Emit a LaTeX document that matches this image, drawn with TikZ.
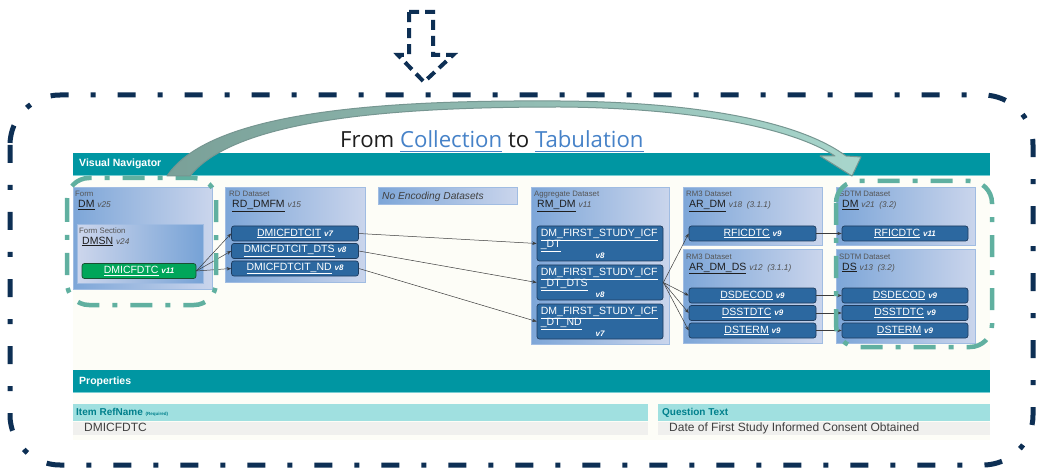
\documentclass[tikz,border=0pt]{standalone}
\usepackage{fontspec}
\setmainfont{Liberation Sans}
\newfontfamily\headfont{Open Sans}
\usetikzlibrary{arrows.meta}

\definecolor{navy}{RGB}{13,47,84}
\definecolor{tealdash}{RGB}{96,176,160}
\definecolor{barteal}{RGB}{0,150,162}
\definecolor{barline}{RGB}{120,205,210}
\definecolor{hdrteal}{RGB}{160,224,224}
\definecolor{hdrtext}{RGB}{0,128,140}
\definecolor{rowgray}{RGB}{240,240,238}
\definecolor{bodybg}{RGB}{253,253,247}
\definecolor{itemF}{RGB}{44,104,160}
\definecolor{itemB}{RGB}{30,60,95}
\definecolor{greenF}{RGB}{0,166,90}
\definecolor{greenB}{RGB}{25,80,50}
\definecolor{panelL}{RGB}{125,166,216}
\definecolor{panelR}{RGB}{202,213,236}
\definecolor{panelB}{RGB}{160,188,226}
\definecolor{secL}{RGB}{205,214,236}
\definecolor{secR}{RGB}{118,162,214}
\definecolor{catgray}{RGB}{85,85,85}
\definecolor{ttlgray}{RGB}{30,30,30}
\definecolor{vgray}{RGB}{80,80,80}
\definecolor{linkgray}{RGB}{60,60,60}
\definecolor{linkblue}{RGB}{70,130,200}
\definecolor{titlegray}{RGB}{30,30,30}
\definecolor{valgray}{RGB}{64,64,64}
\definecolor{ribL}{RGB}{122,160,152}
\definecolor{ribR}{RGB}{168,214,204}
\definecolor{ribB}{RGB}{118,150,145}

% version tags
\newcommand{\ivers}[1]{{\fontsize{8}{9}\selectfont\bfseries\itshape #1}}
\newcommand{\pvers}[1]{{\fontsize{8.3}{9}\selectfont\itshape\color{vgray}#1}}
% heavier underline for the headline links
\newcommand{\thickul}[1]{\setbox0=\hbox{#1}\rlap{\raisebox{-4pt}{\rule{\wd0}{1.3pt}}}\box0}

\begin{document}
\begin{tikzpicture}[x=1pt,y=-1pt,
  panel/.style={draw=panelB, line width=0.6pt, left color=panelL, right color=panelR, inner sep=0pt, anchor=north west},
  secpanel/.style={panel, left color=secL, right color=secR},
  cat/.style={font=\fontsize{7.8}{9}\selectfont, text=catgray, inner sep=0pt, anchor=base west},
  ttl/.style={font=\fontsize{10.5}{12}\selectfont, text=ttlgray, inner sep=0pt, anchor=base west},
  item/.style={draw=itemB, fill=itemF, rounded corners=2.5pt, line width=0.7pt, text=white,
    font=\fontsize{10.5}{12}\selectfont, inner sep=0pt, minimum width=127pt, minimum height=15pt},
  greenitem/.style={item, fill=greenF, draw=greenB, minimum width=114pt},
  aggitem/.style={item, minimum width=126pt, minimum height=35pt},
  itxt/.style={text=white, font=\fontsize{10.5}{12}\selectfont, inner sep=0pt, anchor=base west},
  link/.style={draw=linkgray, line width=0.5pt, -{Stealth[length=4.5pt,width=3.5pt]}},
  outline/.style={draw=navy, line width=5pt, dash pattern=on 18pt off 22pt on 5pt off 22pt, rounded corners=50pt},
  tealbox/.style={draw=tealdash, line width=4.5pt, dash pattern=on 22pt off 13pt on 5pt off 13pt, rounded corners=22pt},
  bartext/.style={font=\fontsize{10.5}{12}\selectfont\bfseries, text=white, inner sep=0pt, anchor=base west},
  hdr/.style={font=\fontsize{10}{12}\selectfont\bfseries, text=hdrtext, inner sep=0pt, anchor=base west},
  val/.style={font=\fontsize{12}{14}\selectfont, text=valgray, inner sep=0pt, anchor=base west},
  ribbon/.style={draw=ribB, line width=1pt, left color=ribL, right color=ribR, line join=round},
  droparrow/.style={draw=navy, line width=4pt, dash pattern=on 10pt off 6pt, line join=miter}
]
\useasboundingbox (0,0) rectangle (1038,470);
\fill[white] (0,0) rectangle (1038,470);

% navigator body and header bar
\fill[bodybg] (73,175) rectangle (990,440);
\fill[barteal] (73,153) rectangle (990,175);
\draw[barline, line width=0.8pt] (73,175) -- (990,175);
\node[bartext] (navTitle) at (79,167) {Visual Navigator};

% properties section
\fill[barteal] (73,370) rectangle (990,392);
\draw[barline, line width=0.8pt] (73,392) -- (990,392);
\node[bartext] (propTitle) at (79,384) {Properties};
\fill[hdrteal] (73,404) rectangle (648,421);
\fill[rowgray] (73,421.6) rectangle (648,434.5);
\fill[hdrteal] (658,404) rectangle (990,421);
\fill[rowgray] (658,421.6) rectangle (990,434.5);
\node[hdr] (refHdr) at (76,415) {Item RefName {\fontsize{4.5}{5}\selectfont (Required)}};
\node[val] (refVal) at (84,431.5) {DMICFDTC};
\node[hdr] (qHdr) at (662,415) {Question Text};
\node[val] (qVal) at (669,431.5) {Date of First Study Informed Consent Obtained};

% dataset panels
\node[panel, minimum width=139pt, minimum height=102pt] (formP) at (73,187) {};
\node[cat] (formCat) at (75,197) {Form};
\node[ttl] (formTtl) at (78,208) {\underline{DM}\ \pvers{v25}};
\node[secpanel, minimum width=126pt, minimum height=59pt] (secP) at (77,224) {};
\node[cat] (secCat) at (79,233.5) {Form Section};
\node[ttl] (secTtl) at (82,244) {\underline{DMSN}\ \pvers{v24}};

\node[panel, minimum width=140pt, minimum height=95pt] (rdP) at (225,187) {};
\node[cat] (rdCat) at (229,197) {RD Dataset};
\node[ttl] (rdTtl) at (232,208) {\underline{RD\_DMFM}\ \pvers{v15}};

\node[panel, minimum width=139pt, minimum height=17pt] (noEnc) at (378,187) {};
\node[font=\fontsize{10.2}{12}\selectfont\itshape, text=ttlgray!85, inner sep=0pt, anchor=base west] (noEncTxt) at (382,199.5) {No Encoding Datasets};

\node[panel, minimum width=138pt, minimum height=157pt] (aggP) at (531,187) {};
\node[cat] (aggCat) at (534,197) {Aggregate Dataset};
\node[ttl] (aggTtl) at (537,208) {\underline{RM\_DM}\ \pvers{v11}};

\node[panel, minimum width=139pt, minimum height=58pt] (rmAP) at (683,187) {};
\node[cat] (rmACat) at (686,197) {RM3 Dataset};
\node[ttl] (rmATtl) at (689,208) {\underline{AR\_DM}\ \pvers{v18\ \ (3.1.1)}};
\node[panel, minimum width=139pt, minimum height=94pt] (rmBP) at (683,249) {};
\node[cat] (rmBCat) at (686,259) {RM3 Dataset};
\node[ttl] (rmBTtl) at (689,270) {\underline{AR\_DM\_DS}\ \pvers{v12\ \ (3.1.1)}};

\node[panel, minimum width=139pt, minimum height=58pt] (sdAP) at (836,187) {};
\node[cat] (sdACat) at (839,197) {SDTM Dataset};
\node[ttl] (sdATtl) at (842,208) {\underline{DM}\ \pvers{v21\ \ (3.2)}};
\node[panel, minimum width=139pt, minimum height=94pt] (sdBP) at (836,249) {};
\node[cat] (sdBCat) at (839,259) {SDTM Dataset};
\node[ttl] (sdBTtl) at (842,270) {\underline{DS}\ \pvers{v13\ \ (3.2)}};

% items
\node[greenitem] (fmItem) at (139,271) {\underline{DMICFDTC}\ \ivers{v11}};

\node[item] (rdA) at (295,233.5) {\underline{DMICFDTCIT}\ \ivers{v7}};
\node[item] (rdB) at (295,251) {\underline{DMICFDTCIT\_DTS}\ \ivers{v8}};
\node[item] (rdC) at (295,268.5) {\underline{DMICFDTCIT\_ND}\ \ivers{v8}};

\node[aggitem] (agA) at (600,243.5) {};
\node[itxt] (agA1) at ([xshift=4pt,yshift=-11pt]agA.north west) {\underline{DM\_FIRST\_STUDY\_ICF}};
\node[itxt] (agA2) at ([xshift=4pt,yshift=-22pt]agA.north west) {\underline{\_DT}};
\node[itxt, anchor=base] (agA3) at ([yshift=-32.5pt]agA.north) {\ivers{v8}};

\node[aggitem] (agB) at (600,282.5) {};
\node[itxt] (agB1) at ([xshift=4pt,yshift=-11pt]agB.north west) {\underline{DM\_FIRST\_STUDY\_ICF}};
\node[itxt] (agB2) at ([xshift=4pt,yshift=-22pt]agB.north west) {\underline{\_DT\_DTS}};
\node[itxt, anchor=base] (agB3) at ([yshift=-32.5pt]agB.north) {\ivers{v8}};

\node[aggitem] (agC) at (600,321.5) {};
\node[itxt] (agC1) at ([xshift=4pt,yshift=-11pt]agC.north west) {\underline{DM\_FIRST\_STUDY\_ICF}};
\node[itxt] (agC2) at ([xshift=4pt,yshift=-22pt]agC.north west) {\underline{\_DT\_ND}};
\node[itxt, anchor=base] (agC3) at ([yshift=-32.5pt]agC.north) {\ivers{v7}};

\node[item] (rmRF) at (752.5,233.5) {\underline{RFICDTC}\ \ivers{v9}};
\node[item] (rmDE) at (752.5,295.5) {\underline{DSDECOD}\ \ivers{v9}};
\node[item] (rmST) at (752.5,313) {\underline{DSSTDTC}\ \ivers{v9}};
\node[item] (rmTE) at (752.5,330.5) {\underline{DSTERM}\ \ivers{v9}};

\node[item, minimum width=126pt] (sdRF) at (905,233.5) {\underline{RFICDTC}\ \ivers{v11}};
\node[item, minimum width=126pt] (sdDE) at (905,295.5) {\underline{DSDECOD}\ \ivers{v9}};
\node[item, minimum width=126pt] (sdST) at (905,313) {\underline{DSSTDTC}\ \ivers{v9}};
\node[item, minimum width=126pt] (sdTE) at (905,330.5) {\underline{DSTERM}\ \ivers{v9}};

% lineage connectors
\draw[link] (fmItem.east) -- (rdA.west);
\draw[link] (fmItem.east) -- (rdB.west);
\draw[link] (fmItem.east) -- (rdC.west);
\draw[link] (rdA.east) -- (agA.west);
\draw[link] (rdB.east) -- (agB.west);
\draw[link] (rdC.east) -- (agC.west);
\draw[link] (agB.east) -- (rmRF.west);
\draw[link] (agB.east) -- (rmDE.west);
\draw[link] (agB.east) -- (rmST.west);
\draw[link] (agB.east) -- (rmTE.west);
\draw[link] (rmRF.east) -- (sdRF.west);
\draw[link] (rmDE.east) -- (sdDE.west);
\draw[link] (rmST.east) -- (sdST.west);
\draw[link] (rmTE.east) -- (sdTE.west);

% highlight frames around source and target
\draw[tealbox] (67,178) rectangle (216,305);
\draw[tealbox] (836,181) rectangle (992,347);

% curved ribbon arrow from collection to tabulation
\draw[ribbon] (167,176) .. controls (212,108) and (400,100) .. (560,101)
  .. controls (700,102) and (800,122) .. (846,156)
  -- (861,157) -- (852,176) -- (820,156) -- (835,156)
  .. controls (790,127) and (690,108) .. (560,107)
  .. controls (410,107) and (238,116) .. (190,176) -- cycle;

\node[font=\headfont\fontsize{22.2}{26}\selectfont, text=titlegray, inner sep=0pt, anchor=base west] (title) at (340,148)
  {From \textcolor{linkblue}{\thickul{Collection}} to \textcolor{linkblue}{\thickul{Tabulation}}};

% outer frame
\draw[outline] (10,95) rectangle (1033,465);

% drop-in arrow
\draw[droparrow] (409,12) -- (433,12) -- (433,55) -- (453,55) -- (424,82) -- (398,55) -- (409,55) -- cycle;
\end{tikzpicture}
\end{document}
